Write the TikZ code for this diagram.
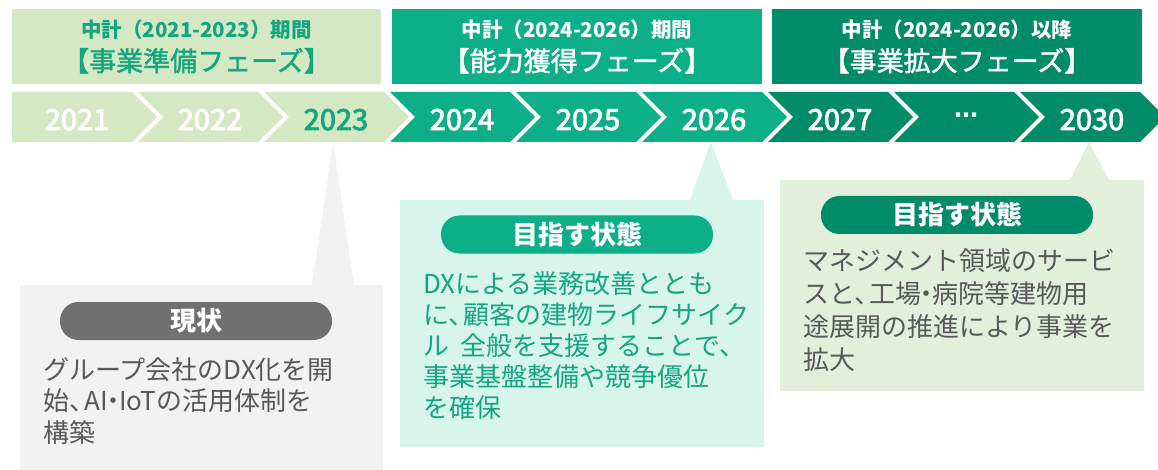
\documentclass[tikz,border=0pt]{standalone}
\usepackage{fontspec}
\setmainfont{Noto Sans CJK JP}
\newfontfamily\medfont{Noto Sans CJK JP}[FakeBold=1.5]
\newfontfamily\yearfont{Noto Sans CJK JP}[FakeBold=3]
\newfontfamily\symfont{DejaVu Sans}
\definecolor{lg}{HTML}{D4E8C3}
\definecolor{tl}{HTML}{0DAF88}
\definecolor{dk}{HTML}{008B69}
\definecolor{tltext}{HTML}{13A681}
\definecolor{mint}{HTML}{D8F5EB}
\definecolor{pale}{HTML}{E2EFDA}
\definecolor{gbox}{HTML}{F2F2F2}
\definecolor{gpill}{HTML}{707070}
\definecolor{gtext}{HTML}{595959}
\newcommand\jcomma{、\kern-0.42em}
\newcommand\jdot{\kern-0.28em・\kern-0.28em}
\tikzset{
  hdrA/.style={inner sep=0pt, anchor=base, font=\fontsize{20.5}{22}\selectfont\bfseries},
  hdrB/.style={inner sep=0pt, anchor=base, font=\fontsize{27}{30}\medfont},
  yeartxt/.style={inner sep=0pt, anchor=base, font=\fontsize{29}{30}\yearfont},
  pill/.style={rounded corners=18.5pt, minimum width=272pt, minimum height=38pt, inner sep=0pt, text=white, font=\fontsize{26}{28}\selectfont\bfseries},
  body/.style={inner sep=0pt, anchor=north west, align=left},
}
\begin{document}
\begin{tikzpicture}[x=1pt,y=-1pt]
\useasboundingbox (0,0) rectangle (1158,470);
\fill[white] (0,0) rectangle (1158,470);
% header boxes
\fill[lg] (12,9) rectangle (381,84);
\fill[tl] (392,9) rectangle (762,84);
\fill[dk] (772,9) rectangle (1142,84);
\node[hdrA, text=tltext] (h1a) at (196.5,37.5) {中計（2021-2023）期間};
\node[hdrB, text=tltext] (h1b) at (196.5,71) {【事業準備フェーズ】};
\node[hdrA, text=white] (h2a) at (577,37.5) {中計（2024-2026）期間};
\node[hdrB, text=white] (h2b) at (577,71) {【能力獲得フェーズ】};
\node[hdrA, text=white] (h3a) at (957,37.5) {中計（2024-2026）以降};
\node[hdrB, text=white] (h3b) at (957,71) {【事業拡大フェーズ】};
% chevrons
\fill[lg] (12,92) -- (132,92) -- (157,117) -- (132,142) -- (12,142) -- cycle;
\foreach \i/\c in {1/lg,2/lg,3/tl,4/tl,5/tl,6/dk,7/dk,8/dk}{
  \pgfmathsetmacro{\s}{12+126*\i}
  \fill[\c] (\s,92) -- ({\s+120},92) -- ({\s+145},117) -- ({\s+120},142) -- (\s,142) -- ({\s+25},117) -- cycle;
}
\node[yeartxt, text=white] (y1) at (77,130) {2021};
\node[yeartxt, text=white] (y2) at (210,130) {2022};
\node[yeartxt, text=tltext] (y3) at (336,130) {2023};
\node[yeartxt, text=white] (y4) at (462,130) {2024};
\node[yeartxt, text=white] (y5) at (588,130) {2025};
\node[yeartxt, text=white] (y6) at (714,130) {2026};
\node[yeartxt, text=white] (y7) at (840,130) {2027};
\node[inner sep=0pt, text=white, font=\fontsize{24}{26}\symfont\bfseries] (y8) at (966,118) {⋯};
\node[yeartxt, text=white] (y9) at (1092,130) {2030};
% callouts
\fill[gbox] (20,285) -- (312,285) -- (333,142) -- (354,285) -- (383,285) -- (383,470) -- (20,470) -- cycle;
\fill[mint] (400,200) -- (690,200) -- (711,142) -- (733,200) -- (764,200) -- (764,447) -- (400,447) -- cycle;
\fill[pale] (780,180) -- (1070,180) -- (1089,142) -- (1109,180) -- (1144,180) -- (1144,391) -- (780,391) -- cycle;
% pills
\node[pill, fill=gpill] (p1) at (196,321) {現状};
\node[pill, fill=tl] (p2) at (577,234.5) {目指す状態};
\node[pill, fill=dk] (p3) at (957,215) {目指す状態};
% body texts
\node[body, text=gtext, font=\fontsize{26}{31.5}\selectfont] (t1) at (43,357)
  {グループ会社のDX化を開\\始\jcomma AI\jdot IoTの活用体制を\\構築};
\node[body, text=tltext, font=\fontsize{26}{31.2}\selectfont] (t2) at (423,271)
  {DXによる業務改善ととも\\に\jcomma 顧客の建物ライフサイク\\ル\hspace{0.45em}全般を支援することで、\\事業基盤整備や競争優位\\を確保};
\node[body, text=gtext, font=\fontsize{26}{33}\selectfont] (t3) at (803,248)
  {マネジメント領域のサービ\\スと\jcomma 工場\jdot 病院等建物用\\途展開の推進により事業を\\拡大};
\end{tikzpicture}
\end{document}
